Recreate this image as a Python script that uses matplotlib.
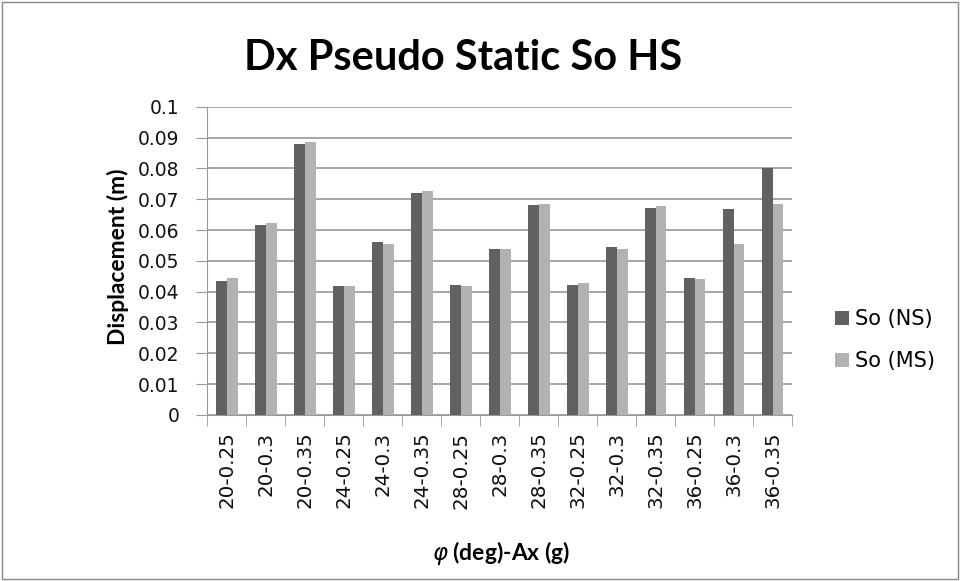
import matplotlib
matplotlib.use("Agg")
import matplotlib.pyplot as plt
import numpy as np
from matplotlib.patches import Rectangle

categories = ["20-0.25", "20-0.3", "20-0.35", "24-0.25", "24-0.3", "24-0.35",
              "28-0.25", "28-0.3", "28-0.35", "32-0.25", "32-0.3", "32-0.35",
              "36-0.25", "36-0.3", "36-0.35"]
so_ns = [0.0435, 0.0618, 0.0878, 0.0419, 0.0561, 0.0719, 0.0423, 0.0539, 0.0681,
         0.0423, 0.0544, 0.0673, 0.0445, 0.0669, 0.0802]
so_ms = [0.0444, 0.0623, 0.0885, 0.0419, 0.0556, 0.0727, 0.0419, 0.0539, 0.0685,
         0.0427, 0.0540, 0.0677, 0.0440, 0.0556, 0.0685]
yticks = [0, 0.01, 0.02, 0.03, 0.04, 0.05, 0.06, 0.07, 0.08, 0.09, 0.1]
ytick_labels = ["0", "0.01", "0.02", "0.03", "0.04", "0.05", "0.06", "0.07", "0.08", "0.09", "0.1"]

plt.rcParams['font.family'] = ['Lato', 'DejaVu Sans']

fig = plt.figure(figsize=(9.6, 5.81), dpi=100)
ax = fig.add_axes([0.216, 0.286, 0.609, 0.530])

x = np.arange(len(categories))
w = 0.28
ax.bar(x - w/2, so_ns, w, color="#616161", label="So (NS)", zorder=3)
ax.bar(x + w/2, so_ms, w, color="#b2b2b2", label="So (MS)", zorder=3)

ax.set_xlim(-0.5, len(categories) - 0.5)
ax.set_ylim(0, 0.1)
ax.set_yticks(yticks)
ax.set_yticklabels(ytick_labels, fontsize=13.5, family=['DejaVu Sans'], color="#111111")
ax.set_xticks(x)
ax.set_xticklabels(categories, rotation=90, fontsize=14.3, family=['DejaVu Sans'],
                   color="#111111")
ax.tick_params(axis='x', length=0, pad=12)
ax.set_xticks(np.arange(-0.5, len(categories)), minor=True)
ax.tick_params(axis='x', which='minor', length=8, color="#999999")
ax.tick_params(axis='y', length=8, color="#999999", pad=12)

ax.yaxis.grid(True, color="#a6a6a6", linewidth=1.4, zorder=0)
for s in ['top', 'right']:
    ax.spines[s].set_visible(False)
ax.spines['left'].set_color("#999999")
ax.spines['bottom'].set_color("#999999")

fig.text(118/960, 1 - 257/581, "Displacement (m)", rotation=90, fontsize=16.5,
         fontweight='bold', ha='center', va='center')
fig.text(501/960, 1 - 553/581, r"$\varphi$ (deg)-Ax (g)", fontsize=16.5,
         fontweight='bold', ha='center', va='center')
fig.text(0.482, 0.901, "Dx Pseudo Static So HS", fontsize=30, fontweight='bold',
         ha='center', va='center')

leg = fig.legend(loc='center left', bbox_to_anchor=(835/960, 1 - 340/581), frameon=False,
                 prop={'family': 'DejaVu Sans', 'size': 15},
                 labelspacing=1.05, handlelength=0.65, handleheight=0.65,
                 handletextpad=0.3, borderpad=0, borderaxespad=0)

fig.add_artist(Rectangle((0.002, 0.003), 0.996, 0.994, transform=fig.transFigure,
                         fill=False, edgecolor="#888888", linewidth=1))

fig.savefig("out.png", dpi=100)
